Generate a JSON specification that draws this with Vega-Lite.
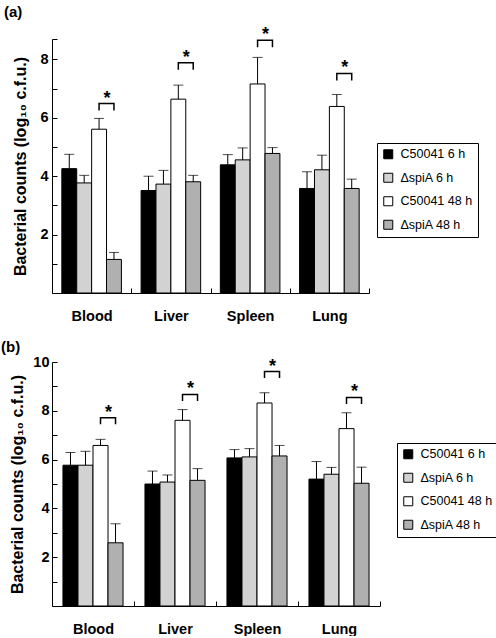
{
  "$schema": "https://vega.github.io/schema/vega-lite/v6.json",
  "padding": {"top": 5, "left": 1, "right": 0, "bottom": 0},
  "background": "white",
  "config": {
    "font": "Liberation Sans",
    "view": {"stroke": null},
    "axis": {"domainColor": "black", "tickColor": "black", "labelColor": "black", "titleColor": "black", "grid": false, "labelFont": "Liberation Sans", "titleFont": "Liberation Sans"},
    "legend": {"labelFont": "Liberation Sans"}
  },
  "datasets": {
    "barsA": [
      {"organ": "Blood", "series": "C50041 6 h", "mean": 4.26, "upper": 4.75},
      {"organ": "Blood", "series": "ΔspiA 6 h", "mean": 3.77, "upper": 4.03},
      {"organ": "Blood", "series": "C50041 48 h", "mean": 5.61, "upper": 5.98},
      {"organ": "Blood", "series": "ΔspiA 48 h", "mean": 1.15, "upper": 1.39},
      {"organ": "Liver", "series": "C50041 6 h", "mean": 3.51, "upper": 4.0},
      {"organ": "Liver", "series": "ΔspiA 6 h", "mean": 3.73, "upper": 4.2},
      {"organ": "Liver", "series": "C50041 48 h", "mean": 6.64, "upper": 7.12},
      {"organ": "Liver", "series": "ΔspiA 48 h", "mean": 3.81, "upper": 4.03},
      {"organ": "Spleen", "series": "C50041 6 h", "mean": 4.39, "upper": 4.74},
      {"organ": "Spleen", "series": "ΔspiA 6 h", "mean": 4.56, "upper": 4.97},
      {"organ": "Spleen", "series": "C50041 48 h", "mean": 7.16, "upper": 8.07},
      {"organ": "Spleen", "series": "ΔspiA 48 h", "mean": 4.78, "upper": 4.98},
      {"organ": "Lung", "series": "C50041 6 h", "mean": 3.58, "upper": 4.15},
      {"organ": "Lung", "series": "ΔspiA 6 h", "mean": 4.22, "upper": 4.72},
      {"organ": "Lung", "series": "C50041 48 h", "mean": 6.39, "upper": 6.8},
      {"organ": "Lung", "series": "ΔspiA 48 h", "mean": 3.58, "upper": 3.9}
    ],
    "barsB": [
      {"organ": "Blood", "series": "C50041 6 h", "mean": 5.77, "upper": 6.29},
      {"organ": "Blood", "series": "ΔspiA 6 h", "mean": 5.77, "upper": 6.34},
      {"organ": "Blood", "series": "C50041 48 h", "mean": 6.58, "upper": 6.83},
      {"organ": "Blood", "series": "ΔspiA 48 h", "mean": 2.59, "upper": 3.37},
      {"organ": "Liver", "series": "C50041 6 h", "mean": 5.0, "upper": 5.53},
      {"organ": "Liver", "series": "ΔspiA 6 h", "mean": 5.08, "upper": 5.37},
      {"organ": "Liver", "series": "C50041 48 h", "mean": 7.61, "upper": 8.05},
      {"organ": "Liver", "series": "ΔspiA 48 h", "mean": 5.15, "upper": 5.63},
      {"organ": "Spleen", "series": "C50041 6 h", "mean": 6.07, "upper": 6.41},
      {"organ": "Spleen", "series": "ΔspiA 6 h", "mean": 6.11, "upper": 6.45},
      {"organ": "Spleen", "series": "C50041 48 h", "mean": 8.32, "upper": 8.74},
      {"organ": "Spleen", "series": "ΔspiA 48 h", "mean": 6.15, "upper": 6.58},
      {"organ": "Lung", "series": "C50041 6 h", "mean": 5.2, "upper": 5.92},
      {"organ": "Lung", "series": "ΔspiA 6 h", "mean": 5.4, "upper": 5.68},
      {"organ": "Lung", "series": "C50041 48 h", "mean": 7.27, "upper": 7.92},
      {"organ": "Lung", "series": "ΔspiA 48 h", "mean": 5.03, "upper": 5.69}
    ],
    "bracketsA": [
      {"organ": "Blood", "series": "C50041 48 h", "y": 6.25, "pt": 0},
      {"organ": "Blood", "series": "C50041 48 h", "y": 6.49, "pt": 1},
      {"organ": "Blood", "series": "ΔspiA 48 h", "y": 6.49, "pt": 2},
      {"organ": "Blood", "series": "ΔspiA 48 h", "y": 6.25, "pt": 3},
      {"organ": "Liver", "series": "C50041 48 h", "y": 7.65, "pt": 0},
      {"organ": "Liver", "series": "C50041 48 h", "y": 7.89, "pt": 1},
      {"organ": "Liver", "series": "ΔspiA 48 h", "y": 7.89, "pt": 2},
      {"organ": "Liver", "series": "ΔspiA 48 h", "y": 7.65, "pt": 3},
      {"organ": "Spleen", "series": "C50041 48 h", "y": 8.42, "pt": 0},
      {"organ": "Spleen", "series": "C50041 48 h", "y": 8.66, "pt": 1},
      {"organ": "Spleen", "series": "ΔspiA 48 h", "y": 8.66, "pt": 2},
      {"organ": "Spleen", "series": "ΔspiA 48 h", "y": 8.42, "pt": 3},
      {"organ": "Lung", "series": "C50041 48 h", "y": 7.28, "pt": 0},
      {"organ": "Lung", "series": "C50041 48 h", "y": 7.52, "pt": 1},
      {"organ": "Lung", "series": "ΔspiA 48 h", "y": 7.52, "pt": 2},
      {"organ": "Lung", "series": "ΔspiA 48 h", "y": 7.28, "pt": 3}
    ],
    "bracketsB": [
      {"organ": "Blood", "series": "C50041 48 h", "y": 7.45, "pt": 0},
      {"organ": "Blood", "series": "C50041 48 h", "y": 7.72, "pt": 1},
      {"organ": "Blood", "series": "ΔspiA 48 h", "y": 7.72, "pt": 2},
      {"organ": "Blood", "series": "ΔspiA 48 h", "y": 7.45, "pt": 3},
      {"organ": "Liver", "series": "C50041 48 h", "y": 8.4, "pt": 0},
      {"organ": "Liver", "series": "C50041 48 h", "y": 8.67, "pt": 1},
      {"organ": "Liver", "series": "ΔspiA 48 h", "y": 8.67, "pt": 2},
      {"organ": "Liver", "series": "ΔspiA 48 h", "y": 8.4, "pt": 3},
      {"organ": "Spleen", "series": "C50041 48 h", "y": 9.34, "pt": 0},
      {"organ": "Spleen", "series": "C50041 48 h", "y": 9.61, "pt": 1},
      {"organ": "Spleen", "series": "ΔspiA 48 h", "y": 9.61, "pt": 2},
      {"organ": "Spleen", "series": "ΔspiA 48 h", "y": 9.34, "pt": 3},
      {"organ": "Lung", "series": "C50041 48 h", "y": 8.28, "pt": 0},
      {"organ": "Lung", "series": "C50041 48 h", "y": 8.55, "pt": 1},
      {"organ": "Lung", "series": "ΔspiA 48 h", "y": 8.55, "pt": 2},
      {"organ": "Lung", "series": "ΔspiA 48 h", "y": 8.28, "pt": 3}
    ]
  },
  "resolve": {"scale": {"fill": "independent", "x": "independent", "y": "independent", "xOffset": "independent"}, "legend": {"fill": "independent"}},
  "spacing": 17,
  "vconcat": [
    {
      "width": 317,
      "height": 254,
      "title": {"text": "(a)", "anchor": "start", "frame": "group", "fontSize": 15, "fontWeight": "bold", "font": "Liberation Sans", "offset": 6, "dx": -48, "color": "black"},
      "encoding": {
        "x": {"field": "organ", "type": "nominal", "sort": ["Blood", "Liver", "Spleen", "Lung"],
          "scale": {"paddingInner": 0, "paddingOuter": 0},
          "axis": {"title": null, "labelAngle": 0, "labelFontSize": 14.5, "labelFontWeight": "bold", "tickBand": "extent", "tickSize": -5, "labelPadding": 21, "domainWidth": 1}},
        "xOffset": {"field": "series", "type": "nominal", "sort": ["C50041 6 h", "ΔspiA 6 h", "C50041 48 h", "ΔspiA 48 h"], "scale": {"paddingInner": 0, "paddingOuter": 0.66}}
      },
      "layer": [
        {
          "data": {"name": "barsA"},
          "mark": {"type": "bar", "stroke": "black", "strokeWidth": 1},
          "encoding": {
            "y": {"field": "mean", "type": "quantitative", "scale": {"domain": [0, 8.7], "nice": false},
              "axis": {"title": "Bacterial counts (log₁₀ c.f.u.)", "titleFontSize": 16, "titleFontWeight": "bold", "labelFontSize": 14.5, "labelFontWeight": "bold", "values": [1, 2, 3, 4, 5, 6, 7, 8, 8.7], "labelOverlap": false, "labelExpr": "datum.value % 2 === 0 ? datum.label : ''", "tickSize": -5, "labelPadding": 9, "titlePadding": 11}},
            "fill": {"field": "series", "type": "nominal",
              "scale": {"domain": ["C50041 6 h", "ΔspiA 6 h", "C50041 48 h", "ΔspiA 48 h"], "range": ["#000000", "#d2d2d2", "#ffffff", "#b0b0b0"]},
              "legend": {"title": null, "orient": "none", "legendX": 325, "legendY": 104, "symbolType": "square", "symbolSize": 81, "symbolStrokeColor": "black", "symbolStrokeWidth": 1, "labelFontSize": 12.5, "labelColor": "black", "rowPadding": 9.5, "padding": 5, "labelOffset": 6, "strokeColor": "black", "fillColor": "white"}}
          }
        },
        {
          "data": {"name": "barsA"},
          "mark": {"type": "rule", "color": "black", "strokeWidth": 1},
          "encoding": {"y": {"field": "mean", "type": "quantitative", "axis": {"title": "Bacterial counts (log₁₀ c.f.u.)", "titleFontSize": 16, "titleFontWeight": "bold", "labelFontSize": 14.5, "labelFontWeight": "bold", "values": [1, 2, 3, 4, 5, 6, 7, 8, 8.7], "labelOverlap": false, "labelExpr": "datum.value % 2 === 0 ? datum.label : ''", "tickSize": -5, "labelPadding": 9, "titlePadding": 11}}, "y2": {"field": "upper"}}
        },
        {
          "data": {"name": "barsA"},
          "mark": {"type": "tick", "color": "black", "thickness": 1, "size": 10, "orient": "horizontal"},
          "encoding": {"y": {"field": "upper", "type": "quantitative", "axis": {"title": "Bacterial counts (log₁₀ c.f.u.)", "titleFontSize": 16, "titleFontWeight": "bold", "labelFontSize": 14.5, "labelFontWeight": "bold", "values": [1, 2, 3, 4, 5, 6, 7, 8, 8.7], "labelOverlap": false, "labelExpr": "datum.value % 2 === 0 ? datum.label : ''", "tickSize": -5, "labelPadding": 9, "titlePadding": 11}}}
        },
        {
          "data": {"name": "bracketsA"},
          "mark": {"type": "line", "color": "black", "strokeWidth": 1.5},
          "encoding": {"y": {"field": "y", "type": "quantitative", "axis": {"title": "Bacterial counts (log₁₀ c.f.u.)", "titleFontSize": 16, "titleFontWeight": "bold", "labelFontSize": 14.5, "labelFontWeight": "bold", "values": [1, 2, 3, 4, 5, 6, 7, 8, 8.7], "labelOverlap": false, "labelExpr": "datum.value % 2 === 0 ? datum.label : ''", "tickSize": -5, "labelPadding": 9, "titlePadding": 11}}, "detail": {"field": "organ"}, "order": {"field": "pt"}}
        },
        {
          "data": {"name": "bracketsA"},
          "transform": [{"filter": "datum.pt == 1"}],
          "mark": {"type": "text", "text": "*", "fontSize": 18, "fontWeight": "bold", "baseline": "alphabetic", "dx": 8, "color": "black"},
          "encoding": {"y": {"field": "y", "type": "quantitative", "axis": {"title": "Bacterial counts (log₁₀ c.f.u.)", "titleFontSize": 16, "titleFontWeight": "bold", "labelFontSize": 14.5, "labelFontWeight": "bold", "values": [1, 2, 3, 4, 5, 6, 7, 8, 8.7], "labelOverlap": false, "labelExpr": "datum.value % 2 === 0 ? datum.label : ''", "tickSize": -5, "labelPadding": 9, "titlePadding": 11}}}
        }
      ]
    },
    {
      "width": 328,
      "height": 244,
      "title": {"text": "(b)", "anchor": "start", "frame": "group", "fontSize": 15, "fontWeight": "bold", "font": "Liberation Sans", "offset": -1, "dx": -51, "color": "black"},
      "encoding": {
        "x": {"field": "organ", "type": "nominal", "sort": ["Blood", "Liver", "Spleen", "Lung"],
          "scale": {"paddingInner": 0, "paddingOuter": 0},
          "axis": {"title": null, "labelAngle": 0, "labelFontSize": 14.5, "labelFontWeight": "bold", "tickBand": "extent", "tickSize": -5, "labelPadding": 21, "domainWidth": 1}},
        "xOffset": {"field": "series", "type": "nominal", "sort": ["C50041 6 h", "ΔspiA 6 h", "C50041 48 h", "ΔspiA 48 h"], "scale": {"paddingInner": 0, "paddingOuter": 0.73}}
      },
      "layer": [
        {
          "data": {"name": "barsB"},
          "mark": {"type": "bar", "stroke": "black", "strokeWidth": 1},
          "encoding": {
            "y": {"field": "mean", "type": "quantitative", "scale": {"domain": [0, 10], "nice": false},
              "axis": {"title": "Bacterial counts (log₁₀ c.f.u.)", "titleFontSize": 16, "titleFontWeight": "bold", "labelFontSize": 14.5, "labelFontWeight": "bold", "values": [1, 2, 3, 4, 5, 6, 7, 8, 9, 10], "labelOverlap": false, "labelExpr": "datum.value % 2 === 0 ? datum.label : ''", "tickSize": -5, "labelPadding": 8, "titlePadding": 7}},
            "fill": {"field": "series", "type": "nominal",
              "scale": {"domain": ["C50041 6 h", "ΔspiA 6 h", "C50041 48 h", "ΔspiA 48 h"], "range": ["#000000", "#d2d2d2", "#ffffff", "#b0b0b0"]},
              "legend": {"title": null, "orient": "none", "legendX": 345, "legendY": 81, "symbolType": "square", "symbolSize": 81, "symbolStrokeColor": "black", "symbolStrokeWidth": 1, "labelFontSize": 12.5, "labelColor": "black", "rowPadding": 9.5, "padding": 5, "labelOffset": 6, "strokeColor": "black", "fillColor": "white"}}
          }
        },
        {
          "data": {"name": "barsB"},
          "mark": {"type": "rule", "color": "black", "strokeWidth": 1},
          "encoding": {"y": {"field": "mean", "type": "quantitative", "axis": {"title": "Bacterial counts (log₁₀ c.f.u.)", "titleFontSize": 16, "titleFontWeight": "bold", "labelFontSize": 14.5, "labelFontWeight": "bold", "values": [1, 2, 3, 4, 5, 6, 7, 8, 9, 10], "labelOverlap": false, "labelExpr": "datum.value % 2 === 0 ? datum.label : ''", "tickSize": -5, "labelPadding": 8, "titlePadding": 7}}, "y2": {"field": "upper"}}
        },
        {
          "data": {"name": "barsB"},
          "mark": {"type": "tick", "color": "black", "thickness": 1, "size": 10, "orient": "horizontal"},
          "encoding": {"y": {"field": "upper", "type": "quantitative", "axis": {"title": "Bacterial counts (log₁₀ c.f.u.)", "titleFontSize": 16, "titleFontWeight": "bold", "labelFontSize": 14.5, "labelFontWeight": "bold", "values": [1, 2, 3, 4, 5, 6, 7, 8, 9, 10], "labelOverlap": false, "labelExpr": "datum.value % 2 === 0 ? datum.label : ''", "tickSize": -5, "labelPadding": 8, "titlePadding": 7}}}
        },
        {
          "data": {"name": "bracketsB"},
          "mark": {"type": "line", "color": "black", "strokeWidth": 1.5},
          "encoding": {"y": {"field": "y", "type": "quantitative", "axis": {"title": "Bacterial counts (log₁₀ c.f.u.)", "titleFontSize": 16, "titleFontWeight": "bold", "labelFontSize": 14.5, "labelFontWeight": "bold", "values": [1, 2, 3, 4, 5, 6, 7, 8, 9, 10], "labelOverlap": false, "labelExpr": "datum.value % 2 === 0 ? datum.label : ''", "tickSize": -5, "labelPadding": 8, "titlePadding": 7}}, "detail": {"field": "organ"}, "order": {"field": "pt"}}
        },
        {
          "data": {"name": "bracketsB"},
          "transform": [{"filter": "datum.pt == 1"}],
          "mark": {"type": "text", "text": "*", "fontSize": 18, "fontWeight": "bold", "baseline": "alphabetic", "dx": 8, "color": "black"},
          "encoding": {"y": {"field": "y", "type": "quantitative", "axis": {"title": "Bacterial counts (log₁₀ c.f.u.)", "titleFontSize": 16, "titleFontWeight": "bold", "labelFontSize": 14.5, "labelFontWeight": "bold", "values": [1, 2, 3, 4, 5, 6, 7, 8, 9, 10], "labelOverlap": false, "labelExpr": "datum.value % 2 === 0 ? datum.label : ''", "tickSize": -5, "labelPadding": 8, "titlePadding": 7}}}
        }
      ]
    }
  ]
}
